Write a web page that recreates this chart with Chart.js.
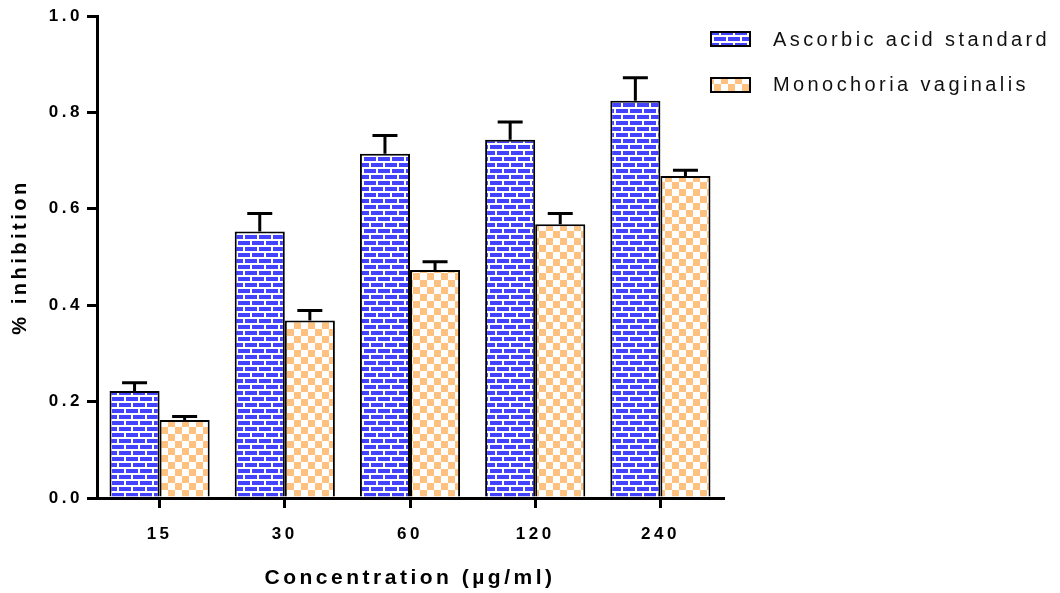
<!DOCTYPE html>
<html>
<head>
<meta charset="utf-8">
<script src="https://cdn.jsdelivr.net/npm/chart.js@4/dist/chart.umd.min.js"></script>
<style>
  html, body { margin: 0; padding: 0; background: #fff; }
  #chart { display: block; }
</style>
</head>
<body>
<canvas id="chart" width="1060" height="593"></canvas>
<script>
const categories = ['15', '30', '60', '120', '240'];
const seriesNames = ['Ascorbic acid standard', 'Monochoria vaginalis'];
const ascorbic = [0.222, 0.553, 0.714, 0.743, 0.824];
const ascorbicErr = [0.017, 0.037, 0.038, 0.037, 0.048];
const mono = [0.162, 0.368, 0.473, 0.568, 0.668];
const monoErr = [0.007, 0.021, 0.017, 0.022, 0.012];
const yTicks = [0, 0.2, 0.4, 0.6, 0.8, 1.0];

const ctx = document.getElementById('chart').getContext('2d');

const brickPattern = () => {
  const c = document.createElement('canvas');
  c.width = 14; c.height = 12;
  const g = c.getContext('2d');
  g.fillStyle = '#ffffff';
  g.fillRect(0, 0, 14, 12);
  g.fillStyle = '#4242ff';
  g.fillRect(0, 1, 12, 4);
  g.fillRect(7, 7, 7, 4);
  g.fillRect(0, 7, 5, 4);
  return ctx.createPattern(c, 'repeat');
};
const checkPattern = () => {
  const c = document.createElement('canvas');
  c.width = 14; c.height = 14;
  const g = c.getContext('2d');
  g.fillStyle = '#ffffff';
  g.fillRect(0, 0, 14, 14);
  g.fillStyle = '#ffc17f';
  g.fillRect(0, 0, 7, 7);
  g.fillRect(7, 7, 7, 7);
  return ctx.createPattern(c, 'repeat');
};
const fills = [brickPattern(), checkPattern()];
const errors = [ascorbicErr, monoErr];

const spacing = '3.5px';
const letterSpacingPlugin = {
  id: 'letterSpacing',
  beforeLayout: (chart) => { chart.ctx.letterSpacing = spacing; },
  beforeDraw: (chart) => { chart.ctx.letterSpacing = spacing; },
};

// upward error bars with caps
const errorBars = {
  id: 'errorBars',
  afterDatasetsDraw: (chart) => {
    const c = chart.ctx;
    const y = chart.scales.y;
    c.save();
    c.strokeStyle = '#000';
    c.lineWidth = 3;
    chart.data.datasets.forEach((ds, i) => {
      const meta = chart.getDatasetMeta(i);
      meta.data.forEach((bar, j) => {
        const top = y.getPixelForValue(ds.data[j] + errors[i][j]);
        c.beginPath();
        c.moveTo(bar.x, bar.y);
        c.lineTo(bar.x, top);
        c.moveTo(bar.x - 12.5, top);
        c.lineTo(bar.x + 12.5, top);
        c.stroke();
      });
    });
    c.restore();
  },
};

const legendRows = [{ box: 32, text: 40 }, { box: 78, text: 85 }];
const sideLegend = {
  id: 'sideLegend',
  afterDraw: (chart) => {
    const c = chart.ctx;
    c.save();
    c.letterSpacing = '3.4px';
    c.font = '20px "Liberation Sans", Arial, sans-serif';
    c.textBaseline = 'middle';
    seriesNames.forEach((name, i) => {
      const row = legendRows[i];
      c.fillStyle = fills[i];
      c.fillRect(711, row.box, 39, 14);
      c.strokeStyle = '#000';
      c.lineWidth = 2;
      c.strokeRect(711, row.box, 39, 14);
      c.fillStyle = '#111';
      c.fillText(name, 773, row.text);
    });
    c.restore();
  },
};

Chart.defaults.font.family = '"Liberation Sans", Arial, sans-serif';
Chart.defaults.color = '#000';

new Chart(ctx, {
  type: 'bar',
  data: {
    labels: categories,
    datasets: [
      {
        label: seriesNames[0],
        data: ascorbic,
        backgroundColor: fills[0],
        borderColor: '#000',
        borderWidth: 2,
        borderSkipped: 'bottom',
      },
      {
        label: seriesNames[1],
        data: mono,
        backgroundColor: fills[1],
        borderColor: '#000',
        borderWidth: 2,
        borderSkipped: 'bottom',
      },
    ],
  },
  options: {
    responsive: false,
    animation: false,
    events: [],
    layout: { padding: { top: 16, right: 337, left: 0, bottom: 0 } },
    datasets: { bar: { categoryPercentage: 0.8, barPercentage: 1.0 } },
    plugins: {
      legend: { display: false },
      tooltip: { enabled: false },
    },
    scales: {
      x: {
        grid: {
          display: true,
          drawOnChartArea: false,
          drawTicks: true,
          tickLength: 10,
          offset: false,
          color: '#000',
          lineWidth: 3,
        },
        border: { display: true, color: '#000', width: 3 },
        ticks: { font: { size: 17, weight: 'bold' }, padding: 16 },
        title: {
          display: true,
          text: 'Concentration (µg/ml)',
          font: { size: 21, weight: 'bold' },
          padding: { top: 0, bottom: 2 },
        },
        afterFit: (scale) => { scale.height = 95; },
      },
      y: {
        min: 0,
        max: 1,
        afterBuildTicks: (scale) => { scale.ticks = yTicks.map((v) => ({ value: v })); },
        grid: {
          display: true,
          drawOnChartArea: false,
          drawTicks: true,
          tickLength: 10,
          color: '#000',
          lineWidth: 3,
        },
        border: { display: true, color: '#000', width: 3 },
        ticks: {
          font: { size: 17, weight: 'bold' },
          padding: 4,
          callback: (v) => Number(v).toFixed(1),
        },
        title: {
          display: true,
          text: '% inhibition',
          font: { size: 20, weight: 'bold' },
          padding: { top: 8, bottom: 0 },
        },
        afterFit: (scale) => { scale.width = 97; },
      },
    },
  },
  plugins: [letterSpacingPlugin, errorBars, sideLegend],
});
</script>
</body>
</html>
